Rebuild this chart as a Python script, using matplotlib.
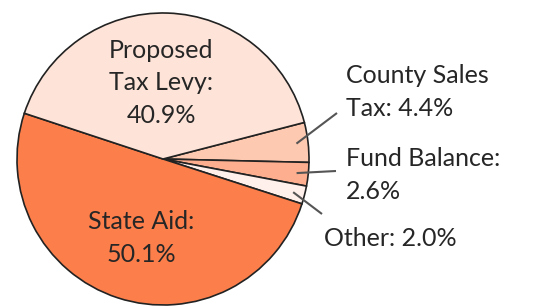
import numpy as np
import matplotlib
matplotlib.use('Agg')
import matplotlib.pyplot as plt

# slices in drawing order (clockwise from the County Sales wedge)
names = ['County Sales Tax', 'Fund Balance', 'Other', 'State Aid', 'Proposed Tax Levy']
shares = [4.4, 2.6, 2.0, 50.1, 40.9]
colors = ['#fdc9b0', '#fcae8e', '#fff0eb', '#fc7f4b', '#fee4d8']

inside_labels = {3: 'State Aid:\n50.1%', 4: 'Proposed\nTax Levy:\n40.9%'}
outside_labels = {0: 'County Sales\nTax: 4.4%', 1: 'Fund Balance:\n2.6%', 2: 'Other: 2.0%'}

plt.rcParams['font.family'] = ['Lato', 'DejaVu Sans']
text_color = '#262626'
fsize = 18

fig = plt.figure(figsize=(5.44, 3.08), dpi=100)
ax = fig.add_axes([0, 0, 1, 1])

cx, cy, r = 163, 149, 146
start = 14.5
wedges, _ = ax.pie(shares, colors=colors, startangle=start, counterclock=False,
                   center=(cx, cy), radius=r, frame=True,
                   wedgeprops=dict(edgecolor='#222222', linewidth=1.2))
ax.set_xlim(0, 544)
ax.set_ylim(0, 308)
ax.set_aspect('equal')
ax.axis('off')

# inside labels
ax.text(161, 308 - 83, inside_labels[4], ha='center', va='center', fontsize=fsize,
        color=text_color, linespacing=1.5)
ax.text(141, 308 - 238, inside_labels[3], ha='center', va='center', fontsize=fsize,
        color=text_color, linespacing=1.5)

# outside labels with leader lines
text_pos = {0: (346, 308 - 92), 1: (346, 308 - 175), 2: (324, 308 - 239)}
line_end = {0: (337, 308 - 113), 1: (336, 308 - 171), 2: (322, 308 - 214)}
for i, w in enumerate(wedges[:3]):
    mid = np.deg2rad((w.theta1 + w.theta2) / 2)
    sx = cx + 0.92 * r * np.cos(mid)
    sy = cy + 0.92 * r * np.sin(mid)
    ex, ey = line_end[i]
    ax.plot([sx, ex], [sy, ey], color='#555555', lw=1.5, solid_capstyle='butt')
    tx, ty = text_pos[i]
    ax.text(tx, ty, outside_labels[i], ha='left', va='center', fontsize=fsize,
            color=text_color, linespacing=1.5)

fig.savefig('out.png', dpi=100)
